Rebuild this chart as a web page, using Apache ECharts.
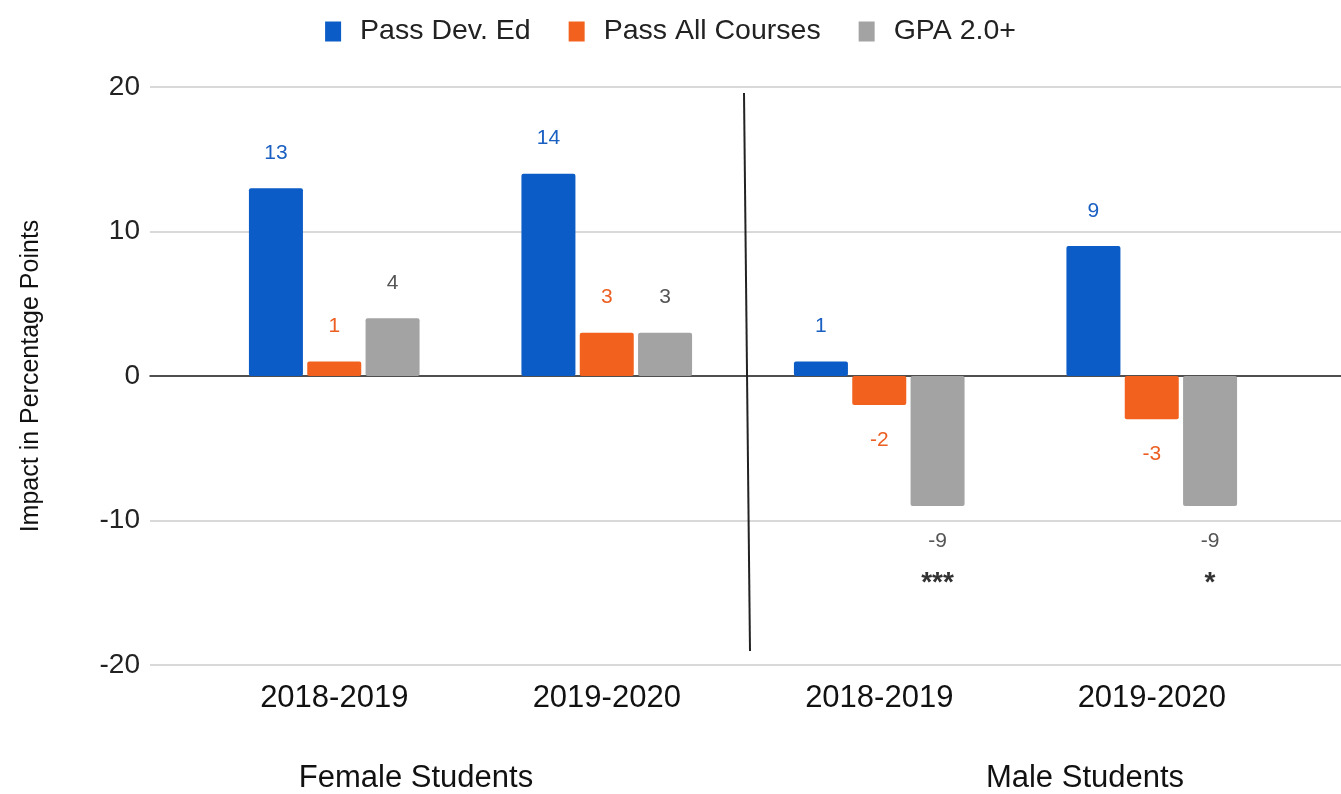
<!DOCTYPE html>
<html>
<head>
<meta charset="utf-8">
<script src="https://cdn.jsdelivr.net/npm/echarts@6/dist/echarts.min.js"></script>
<style>
  html, body { margin: 0; padding: 0; background: #fff; }
  #chart { width: 1341px; height: 794px; }
</style>
</head>
<body>
<div id="chart"></div>
<script>
// data
const categories = ['2018-2019', '2019-2020', '2018-2019', '2019-2020']
const groups = ['Female Students', 'Male Students']
const passDevEd = [13, 14, 1, 9]
const passAllCourses = [1, 3, -2, -3]
const gpa20 = [4, 3, -9, -9]
const gpaStars = ['', '', '***', '*']
const yTicks = { min: -20, max: 20, interval: 10 }

const font = 'Liberation Sans, Arial, sans-serif'

function items (values, stars) {
  return values.map((v, i) => ({
    value: v,
    label: {
      position: v < 0 ? 'bottom' : 'top',
      formatter: stars && stars[i] ? '{c}\n{s|' + stars[i] + '}' : '{c}'
    }
  }))
}

function barSeries (name, values, color, labelColor, stars) {
  return {
    name: name,
    type: 'bar',
    xAxisIndex: 0,
    yAxisIndex: 0,
    barWidth: 54,
    barGap: '8%',
    itemStyle: { color: color, borderRadius: 2 },
    label: {
      show: true,
      distance: 16,
      color: labelColor,
      fontFamily: font,
      fontSize: 21,
      lineHeight: 38,
      rich: {
        s: { fontSize: 28, fontWeight: 'bold', color: '#333', lineHeight: 38, padding: [8, 0, 0, 0], fontFamily: font }
      }
    },
    data: items(values, stars)
  }
}

let myChart = echarts.init(document.getElementById('chart'))
let options = {
  animation: false,
  legend: {
    top: 12,
    left: 'center',
    itemWidth: 16,
    itemHeight: 20,
    itemGap: 38,
    icon: 'rect',
    textStyle: { fontFamily: font, fontSize: 28.5, color: '#222', padding: [0, 0, 0, 14] },
    data: ['Pass Dev. Ed', 'Pass All Courses', 'GPA 2.0+']
  },
  grid: [
    { left: 198, right: 53, top: 87, bottom: 129 },
    { left: 150, right: 0, top: 87, bottom: 129 }
  ],
  xAxis: [{
    type: 'category',
    gridIndex: 0,
    data: categories,
    axisLine: { show: false },
    axisTick: { show: false },
    axisLabel: { fontFamily: font, fontSize: 31, color: '#111', margin: 18 }
  }, {
    type: 'value',
    gridIndex: 1,
    min: 0,
    max: 1,
    axisLabel: { show: false },
    axisTick: { show: false },
    splitLine: { show: false },
    axisLine: { show: true, onZero: true, lineStyle: { color: '#222', width: 1.5 } }
  }],
  yAxis: [{
    type: 'value',
    gridIndex: 0,
    min: yTicks.min,
    max: yTicks.max,
    interval: yTicks.interval,
    show: false
  }, {
    type: 'value',
    gridIndex: 1,
    min: yTicks.min,
    max: yTicks.max,
    interval: yTicks.interval,
    name: 'Impact in Percentage Points',
    nameLocation: 'middle',
    nameGap: 106,
    nameTextStyle: { fontFamily: font, fontSize: 25, color: '#111' },
    axisLine: { show: false },
    axisTick: { show: false },
    axisLabel: { fontFamily: font, fontSize: 28, color: '#222', margin: 10 },
    splitLine: { lineStyle: { color: '#cccccc', width: 1.5 } }
  }],
  graphic: [
    { type: 'line', shape: { x1: 744, y1: 93, x2: 750, y2: 651 }, style: { stroke: '#222', lineWidth: 2 }, z: 10 },
    { type: 'text', x: 416, y: 778, style: { text: groups[0], font: '31px ' + font, fill: '#111', textAlign: 'center', textVerticalAlign: 'middle' } },
    { type: 'text', x: 1085, y: 778, style: { text: groups[1], font: '31px ' + font, fill: '#111', textAlign: 'center', textVerticalAlign: 'middle' } }
  ],
  series: [
    barSeries('Pass Dev. Ed', passDevEd, '#0b5cc6', '#1a5fc2'),
    barSeries('Pass All Courses', passAllCourses, '#f2621e', '#ec5f22'),
    barSeries('GPA 2.0+', gpa20, '#a3a3a3', '#555555', gpaStars)
  ]
}
myChart.setOption(options)
</script>
</body>
</html>
